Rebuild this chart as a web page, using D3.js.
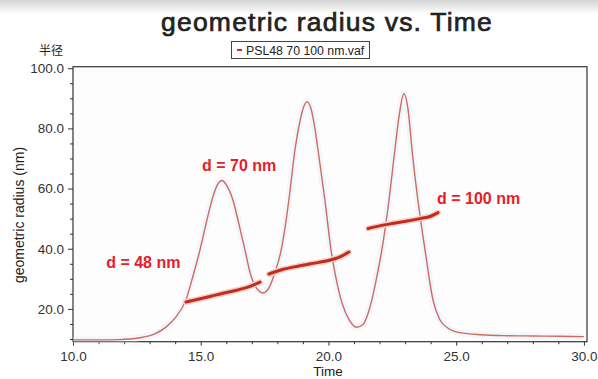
<!DOCTYPE html>
<html>
<head>
<meta charset="utf-8">
<script src="https://cdn.jsdelivr.net/npm/d3@7"></script>
<style>
  body { margin: 0; background: #fff; }
  svg { display: block; font-family: "Liberation Sans", Arial, sans-serif; }
</style>
</head>
<body>
<svg width="598" height="379"></svg>
<script>
// trace (concentration-like signal)
let traceTime = [10.0, 11.0, 11.8, 12.6, 13.2, 13.6, 14.0, 14.42, 14.7, 14.97, 15.2, 15.44, 15.65, 15.83, 16.02, 16.26, 16.5, 16.73, 16.95, 17.15, 17.44, 17.7, 17.9, 18.15, 18.3, 18.45, 18.69, 18.9, 19.05, 19.16, 19.3, 19.45, 19.59, 19.86, 20.1, 20.3, 20.53, 20.8, 21.1, 21.35, 21.55, 21.7, 21.9, 22.09, 22.37, 22.6, 22.78, 22.95, 23.12, 23.27, 23.5, 23.78, 24.09, 24.36, 24.7, 25.15, 26.0, 27.0, 28.0, 29.0, 30.0];
let traceValue = [9.7, 9.7, 9.8, 10.4, 11.7, 13.7, 17.0, 23.0, 31, 39.6, 48, 56.2, 61.2, 62.7, 61.0, 56.2, 48, 39.6, 31.5, 27.3, 25.3, 27.5, 32, 39.6, 47, 56.2, 72.9, 83, 87.6, 88.8, 87, 81, 72.9, 56.2, 39.6, 30, 22, 16.5, 13.9, 14.8, 18.5, 23, 31, 39.6, 56.2, 72.9, 85, 91.5, 86, 72.9, 56.2, 39.6, 23.0, 16.4, 13.5, 12.1, 11.4, 11.1, 11.0, 10.9, 10.8];

// measured radius segments
let seg1Time = [14.42, 14.9, 15.4, 15.87, 16.4, 16.9, 17.32];
let seg1Radius = [22.3, 23.2, 24.2, 25.2, 26.2, 27.4, 28.9];
let seg2Time = [17.67, 18.2, 18.8, 19.3, 19.9, 20.45, 20.8];
let seg2Radius = [31.6, 33.1, 34.2, 35.0, 35.9, 37.3, 38.9];
let seg3Time = [21.55, 22.0, 22.5, 22.92, 23.58, 24.0, 24.29];
let seg3Radius = [46.7, 47.6, 48.4, 49.0, 50.0, 50.8, 52.0];

let xTicks = [10, 15, 20, 25, 30];
let yTicks = [20, 40, 60, 80, 100];

let labels = ["d = 48 nm", "d = 70 nm", "d = 100 nm"];
let labelTime = [11.3, 15.05, 24.25];
let labelRadius = [33.6, 65.8, 54.9];

let svg = d3.select("svg"),
    width = +svg.attr("width"),
    height = +svg.attr("height");

// top shadow
let defs = svg.append("defs");
let grad = defs.append("linearGradient").attr("id", "shade")
    .attr("x1", 0).attr("y1", 0).attr("x2", 0).attr("y2", 1);
grad.append("stop").attr("offset", 0).attr("stop-color", "#d4d4d4");
grad.append("stop").attr("offset", 1).attr("stop-color", "#ffffff");
svg.append("rect").attr("width", width).attr("height", 14).attr("fill", "url(#shade)");

let x = d3.scaleLinear().domain([10, 30.12]).range([73, 587]);
let y = d3.scaleLinear().domain([9.1, 100.5]).range([341.7, 66.7]);

// plot frame
svg.append("rect")
    .attr("x", x(10)).attr("y", y(100.5))
    .attr("width", x(30.12) - x(10)).attr("height", y(9.1) - y(100.5))
    .attr("fill", "#fdfdfe")
    .attr("stroke", "#333").attr("stroke-width", 1.2);

// axes
let xAxis = svg.append("g").attr("transform", "translate(0," + y(9.1) + ")")
    .call(d3.axisBottom(x).tickValues(xTicks).tickFormat(d3.format(".1f")).tickSize(4).tickPadding(6));
let xMinor = svg.append("g").attr("transform", "translate(0," + y(9.1) + ")")
    .call(d3.axisBottom(x).tickValues(d3.range(11, 30, 1).filter(d => d % 5 != 0)).tickFormat("").tickSize(2.5));
let yAxis = svg.append("g").attr("transform", "translate(" + x(10) + ",0)")
    .call(d3.axisLeft(y).tickValues(yTicks).tickFormat(d3.format(".1f")).tickSize(5).tickPadding(4));
let yMinor = svg.append("g").attr("transform", "translate(" + x(10) + ",0)")
    .call(d3.axisLeft(y).tickValues([10, 15, 25, 30, 35, 45, 50, 55, 65, 70, 75, 85, 90, 95]).tickFormat("").tickSize(3));

svg.selectAll(".domain").remove();
svg.selectAll(".tick line").attr("stroke", "#333");
svg.selectAll(".tick text").attr("fill", "#333").style("font-size", "13.5px")
    .style("font-family", "Liberation Sans, Arial, sans-serif");

// curves
let line = d3.line()
    .x(d => x(d[0]))
    .y(d => y(d[1]))
    .curve(d3.curveMonotoneX);

let trace = traceTime.map((t, i) => [t, traceValue[i]]);

svg.append("path").datum(trace)
    .attr("d", line).attr("fill", "none")
    .attr("stroke", "#d8ecf8").attr("stroke-width", 7).attr("stroke-opacity", 0.3);
svg.append("path").datum(trace)
    .attr("d", line).attr("fill", "none")
    .attr("stroke", "#d06a5e").attr("stroke-width", 1.4);

let segs = [[seg1Time, seg1Radius], [seg2Time, seg2Radius], [seg3Time, seg3Radius]];
segs.forEach(s => {
    let pts = s[0].map((t, i) => [t, s[1][i]]);
    svg.append("path").datum(pts)
        .attr("d", line).attr("fill", "none")
        .attr("stroke", "#f5d3c4").attr("stroke-width", 6).attr("stroke-linecap", "round");
    svg.append("path").datum(pts)
        .attr("d", line).attr("fill", "none")
        .attr("stroke", "#c42a22").attr("stroke-width", 3).attr("stroke-linecap", "round");
});

// annotations
svg.selectAll(".note").data(labels).enter().append("text")
    .attr("class", "note")
    .attr("x", (d, i) => x(labelTime[i]))
    .attr("y", (d, i) => y(labelRadius[i]))
    .attr("fill", "#e5202a")
    .style("font-size", "16px")
    .style("font-weight", "bold")
    .text(d => d);

// title
svg.append("text")
    .attr("x", 327).attr("y", 31)
    .attr("text-anchor", "middle")
    .attr("fill", "#222")
    .attr("stroke", "#222").attr("stroke-width", 0.7)
    .style("font-size", "26.5px")
    .style("letter-spacing", "1.2px")
    .text("geometric radius vs. Time");

// legend
svg.append("rect")
    .attr("x", 231.5).attr("y", 41.5).attr("width", 138).attr("height", 17)
    .attr("fill", "#fff").attr("stroke", "#444").attr("stroke-width", 1);
svg.append("line")
    .attr("x1", 237).attr("x2", 242).attr("y1", 50).attr("y2", 50)
    .attr("stroke", "#e5202a").attr("stroke-width", 2);
svg.append("text")
    .attr("x", 246).attr("y", 54.5)
    .attr("fill", "#222")
    .style("font-size", "12.3px")
    .text("PSL48 70 100 nm.vaf");

// axis titles
svg.append("text")
    .attr("x", 51).attr("y", 55)
    .attr("text-anchor", "middle")
    .attr("fill", "#222")
    .style("font-size", "12px")
    .style("font-family", "Noto Sans CJK SC, sans-serif")
    .text("半径");

svg.append("text")
    .attr("transform", "translate(24,215) rotate(-90)")
    .attr("text-anchor", "middle")
    .attr("fill", "#222")
    .style("font-size", "14px")
    .text("geometric radius (nm)");

svg.append("text")
    .attr("x", 328).attr("y", 376)
    .attr("text-anchor", "middle")
    .attr("fill", "#222")
    .style("font-size", "13.5px")
    .text("Time");
</script>
</body>
</html>
